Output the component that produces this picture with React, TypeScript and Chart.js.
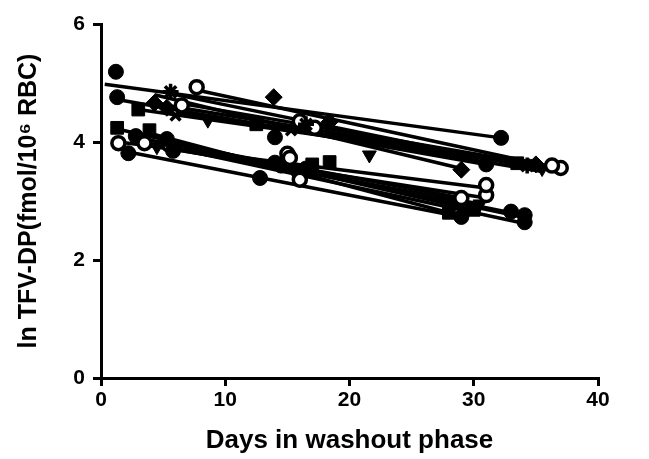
import React, { useEffect, useRef } from 'react';
import { Chart, registerables } from 'chart.js';
Chart.register(...registerables);

// Tick values
const xTickValues = [0, 10, 20, 30, 40];
const yTickValues = [0, 2, 4, 6];

// Per-subject sampling days in washout phase
const subjectDays: number[][] = [
  [1.2, 32.2],
  [1.3, 14.0, 31.0],
  [4.3, 13.9, 29.0],
  [5.6, 16.5, 34.3],
  [7.7, 17.2, 36.3],
  [8.6, 21.6, 35.5],
  [5.3, 18.4, 35.0],
  [6.0, 15.3, 34.8],
  [3.0, 12.5, 33.5],
  [6.5, 16.0, 37.0],
  [1.3, 18.4, 30.0],
  [1.4, 15.2, 31.0],
  [2.2, 12.8, 29.0],
  [5.3, 14.5, 34.1],
  [3.5, 16.0, 31.0],
  [3.9, 17.0, 28.0],
  [5.8, 14.0, 34.1],
  [5.5, 15.0, 29.0],
  [4.5, 15.5, 30.5],
  [2.8, 16.5, 33.0],
];

// Per-subject ln TFV-DP values
const subjectLnValues: number[][] = [
  [5.19, 4.07],
  [4.76, 4.08, 3.62],
  [4.66, 4.76, 3.53],
  [4.85, 4.30, 3.60],
  [4.93, 4.24, 3.60],
  [4.37, 3.78, 3.55],
  [4.58, 4.34, 3.62],
  [4.45, 4.20, 3.62],
  [4.55, 4.30, 3.64],
  [4.62, 4.35, 3.56],
  [4.24, 3.66, 2.85],
  [3.98, 3.73, 3.27],
  [3.81, 3.39, 2.73],
  [4.05, 3.60, 2.76],
  [3.98, 3.36, 3.10],
  [4.20, 3.62, 2.80],
  [3.85, 3.65, 2.64],
  [3.95, 3.80, 3.05],
  [3.92, 3.52, 2.95],
  [4.10, 3.55, 2.82],
];

// Regression line ends
const fitStartDay = [0.3, 1.3, 4.3, 5.6, 7.7, 8.6, 5.3, 6.0, 3.0, 6.5, 1.3, 1.4, 2.2, 5.3, 3.5, 3.9, 5.8, 5.5, 4.5, 2.8];
const fitStartValue = [4.98, 4.72, 4.80, 4.82, 4.88, 4.45, 4.62, 4.50, 4.55, 4.65, 4.22, 4.00, 3.83, 4.00, 3.95, 4.15, 3.90, 3.98, 3.93, 4.08];
const fitEndDay = [32.2, 31.0, 29.0, 34.3, 36.3, 35.5, 35.0, 34.8, 33.5, 37.0, 30.0, 31.0, 29.0, 34.1, 31.0, 28.0, 34.1, 29.0, 30.5, 33.0];
const fitEndValue = [4.07, 3.62, 3.55, 3.58, 3.58, 3.50, 3.60, 3.62, 3.64, 3.55, 2.85, 3.22, 2.73, 2.72, 3.05, 2.80, 2.62, 3.05, 2.95, 2.80];

// Marker kind per subject
const subjectMarkers = [
  'dot', 'dot', 'diamond', 'star', 'ring', 'triDown', 'diamond', 'cross', 'square', 'ring',
  'square', 'ring', 'dot', 'dot', 'ring', 'square', 'dot', 'ring', 'triDown', 'dot',
];

function markerStyle(kind: string) {
  switch (kind) {
    case 'dot':
      return { pointStyle: 'circle', radius: 7.5, bg: '#000', bw: 1, rot: 0 };
    case 'ring':
      return { pointStyle: 'circle', radius: 6.5, bg: '#fff', bw: 3.5, rot: 0 };
    case 'diamond':
      return { pointStyle: 'rectRot', radius: 8.5, bg: '#000', bw: 1, rot: 0 };
    case 'square':
      return { pointStyle: 'rect', radius: 9, bg: '#000', bw: 1, rot: 0 };
    case 'triDown':
      return { pointStyle: 'triangle', radius: 8, bg: '#000', bw: 1, rot: 180 };
    case 'star':
      return { pointStyle: 'star', radius: 8, bg: '#000', bw: 3.5, rot: 0 };
    default:
      return { pointStyle: 'crossRot', radius: 7, bg: '#000', bw: 3.5, rot: 0 };
  }
}

const FONT = '"Liberation Sans", Arial, sans-serif';

export default function App() {
  const ref = useRef<HTMLCanvasElement | null>(null);
  useEffect(() => {
    const canvas = ref.current;
    if (!canvas) return;
    const datasets: any[] = [];
    subjectDays.forEach((days, i) => {
      const m = markerStyle(subjectMarkers[i]);
      datasets.push({
        type: 'scatter',
        data: days.map((d, j) => ({ x: d, y: subjectLnValues[i][j] })),
        pointStyle: m.pointStyle,
        pointRadius: m.radius,
        pointRotation: m.rot,
        pointBackgroundColor: m.bg,
        pointBorderColor: '#000',
        pointBorderWidth: m.bw,
        showLine: false,
        order: 0,
      });
    });
    subjectDays.forEach((_d, i) => {
      datasets.push({
        type: 'scatter',
        data: [
          { x: fitStartDay[i], y: fitStartValue[i] },
          { x: fitEndDay[i], y: fitEndValue[i] },
        ],
        showLine: true,
        borderColor: '#000',
        borderWidth: 3.5,
        pointRadius: 0,
        order: 1,
      });
    });
    const chart = new Chart(canvas, {
      type: 'scatter',
      data: { datasets },
      options: {
        animation: false,
        responsive: false,
        layout: { padding: { top: 24, right: 51, left: 0, bottom: 0 } },
        plugins: { legend: { display: false }, tooltip: { enabled: false } },
        scales: {
          x: {
            type: 'linear',
            min: 0,
            max: 40,
            afterBuildTicks: (s: any) => { s.ticks = xTickValues.map((v) => ({ value: v })); },
            afterFit: (s: any) => { s.height = 81; },
            ticks: { color: '#000', font: { family: FONT, size: 21, weight: 'bold' }, padding: 2 },
            grid: { drawOnChartArea: false, drawTicks: true, tickLength: 8, lineWidth: 3, color: '#000' },
            border: { display: true, width: 3, color: '#000' },
            title: {
              display: true,
              text: 'Days in washout phase',
              color: '#000',
              font: { family: FONT, size: 26, weight: 'bold' },
              padding: { top: 0, bottom: 3 },
            },
          },
          y: {
            type: 'linear',
            min: 0,
            max: 6,
            afterBuildTicks: (s: any) => { s.ticks = yTickValues.map((v) => ({ value: v })); },
            afterFit: (s: any) => { s.width = 101; },
            ticks: { color: '#000', font: { family: FONT, size: 21, weight: 'bold' }, padding: 8 },
            grid: { drawOnChartArea: false, drawTicks: true, tickLength: 8, lineWidth: 3, color: '#000' },
            border: { display: true, width: 3, color: '#000' },
            title: {
              display: true,
              text: 'ln TFV-DP(fmol/10\u2076 RBC)',
              color: '#000',
              font: { family: FONT, size: 25, weight: 'bold' },
              padding: { top: 14, bottom: 0 },
            },
          },
        },
      },
    });
    return () => chart.destroy();
  }, []);
  return (
    <div style={{ position: 'fixed', left: 0, top: 0, width: 649, height: 459, background: '#fff' }}>
      <canvas ref={ref} width={649} height={459} />
    </div>
  );
}
